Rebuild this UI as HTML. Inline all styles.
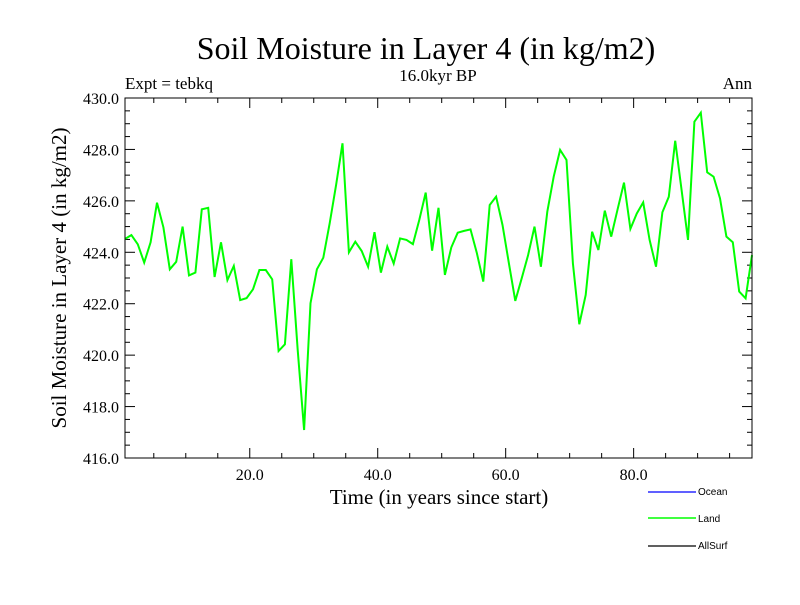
<!DOCTYPE html>
<html><head><meta charset="utf-8"><style>
body{margin:0;background:#fff}
svg text{font-family:"Liberation Serif",serif;fill:#000}
</style></head><body>
<svg id="chart" width="800" height="600" xmlns="http://www.w3.org/2000/svg">
<text x="426" y="59" font-size="32" text-anchor="middle">Soil Moisture in Layer 4 (in kg/m2)</text>
<text x="125" y="89" font-size="17">Expt = tebkq</text>
<text x="438" y="81" font-size="17" text-anchor="middle">16.0kyr BP</text>
<text x="752" y="89" font-size="17" text-anchor="end">Ann</text>
<text transform="translate(66,278) rotate(-90)" font-size="21" text-anchor="middle">Soil Moisture in Layer 4 (in kg/m2)</text>
<text x="439" y="504" font-size="21" text-anchor="middle">Time (in years since start)</text>
<g id="ticks"></g>
<path id="land" fill="none" stroke="#00ff00" stroke-width="2"/>
<rect x="125" y="98" width="627" height="360" fill="none" stroke="#000" stroke-width="1"/>
<g>
<line x1="648" y1="492" x2="696" y2="492" stroke="#0000ff" stroke-width="1.2"/>
<text x="698" y="495" font-size="10" style="font-family:'Liberation Sans',sans-serif">Ocean</text>
<line x1="648" y1="518" x2="696" y2="518" stroke="#00ff00" stroke-width="1.5"/>
<text x="698" y="522" font-size="10" style="font-family:'Liberation Sans',sans-serif">Land</text>
<line x1="648" y1="546" x2="696" y2="546" stroke="#000" stroke-width="1.2"/>
<text x="698" y="549" font-size="10" style="font-family:'Liberation Sans',sans-serif">AllSurf</text>
</g>
</svg>
<script>
const landValues=[424.52,424.67,424.31,423.60,424.39,425.93,424.97,423.34,423.63,425.00,423.10,423.21,425.67,425.73,423.04,424.39,422.92,423.47,422.14,422.22,422.56,423.31,423.31,422.95,420.16,420.42,423.73,420.2,417.09,422.02,423.34,423.79,425.13,426.62,428.24,424.00,424.41,424.05,423.44,424.78,423.21,424.22,423.56,424.54,424.48,424.32,425.26,426.32,424.06,425.73,423.12,424.19,424.76,424.83,424.89,423.96,422.86,425.84,426.16,425.06,423.57,422.11,422.99,423.89,425.00,423.44,425.58,426.94,427.98,427.59,423.57,421.20,422.34,424.80,424.09,425.62,424.61,425.67,426.71,424.91,425.51,425.94,424.48,423.44,425.56,426.16,428.34,426.42,424.48,429.08,429.43,427.11,426.94,426.10,424.61,424.39,422.47,422.21,423.89];
const xTickValues=[20,40,60,80];
const xTickLabels=["20.0","40.0","60.0","80.0"];
const yTickValues=[416,418,420,422,424,426,428,430];
const yTickLabels=["416.0","418.0","420.0","422.0","424.0","426.0","428.0","430.0"];
const L=125,R=752,T=98,B=458,XMIN=0.5,XMAX=98.5,YMIN=416,YMAX=430;
const sx=v=>L+(v-XMIN)/(XMAX-XMIN)*(R-L);
const sy=v=>B-(v-YMIN)/(YMAX-YMIN)*(B-T);
const NS="http://www.w3.org/2000/svg";
const g=document.getElementById('ticks');
function ln(x1,y1,x2,y2){const l=document.createElementNS(NS,'line');l.setAttribute('x1',x1);l.setAttribute('y1',y1);l.setAttribute('x2',x2);l.setAttribute('y2',y2);l.setAttribute('stroke','#000');l.setAttribute('stroke-width','1');


g.appendChild(l);}
for(let v=5;v<=95;v+=5){const x=sx(v);const len=v%20===0?10:5;ln(x,B,x,B-len);ln(x,T,x,T+len);}
for(let v=416.5;v<430;v+=0.5){const y=sy(v);const len=Math.abs(v%2)<1e-6?10:5;ln(L,y,L+len,y);ln(R,y,R-len,y);}
xTickValues.forEach((v,i)=>{const t=document.createElementNS(NS,'text');t.setAttribute('x',sx(v));t.setAttribute('y',B+22);t.setAttribute('font-size','16');t.setAttribute('text-anchor','middle');t.textContent=xTickLabels[i];


g.appendChild(t);});
yTickValues.forEach((v,i)=>{const t=document.createElementNS(NS,'text');t.setAttribute('x',L-6);t.setAttribute('y',sy(v)+6);t.setAttribute('font-size','16');t.setAttribute('text-anchor','end');t.textContent=yTickLabels[i];


g.appendChild(t);});
document.getElementById('land').setAttribute('d',landValues.map((v,i)=>(i?'L':'M')+sx(i+0.5).toFixed(1)+','+sy(v).toFixed(1)).join(''));
</script>
</body></html>
